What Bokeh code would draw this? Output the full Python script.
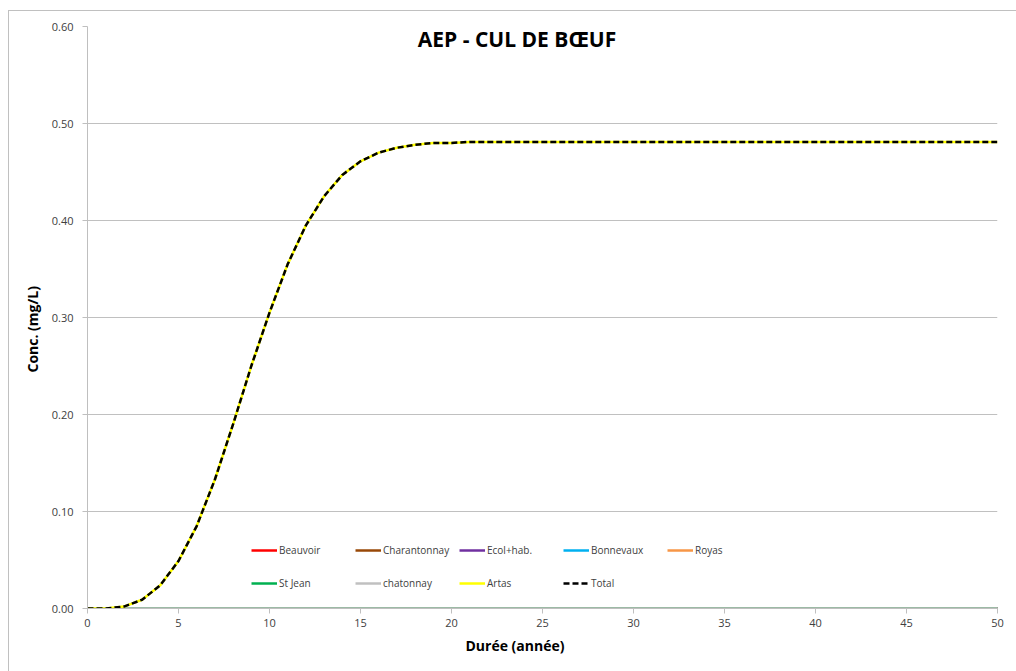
from bokeh.plotting import figure
from bokeh.models import Range1d, Label, Legend, LegendItem, NumeralTickFormatter, FixedTicker, Title
from bokeh.embed import file_html
from bokeh.resources import INLINE

# ---- data ----
years = list(range(0, 51))
artas = [0.000, 0.000, 0.002, 0.009, 0.024, 0.049, 0.085, 0.133, 0.190, 0.250,
         0.305, 0.355, 0.395, 0.425, 0.447, 0.461, 0.470, 0.475, 0.478, 0.480,
         0.480] + [0.481] * 30
zero = [0.0] * 51
beauvoir = zero
charantonnay = zero
ecol_hab = zero
bonnevaux = zero
royas = zero
st_jean = zero
chatonnay = zero
total = artas
series_names = ["Beauvoir", "Charantonnay", "Ecol+hab.", "Bonnevaux", "Royas",
                "St Jean", "chatonnay", "Artas", "Total"]
x_ticks = [0, 5, 10, 15, 20, 25, 30, 35, 40, 45, 50]
y_ticks = [0.0, 0.1, 0.2, 0.3, 0.4, 0.5, 0.6]
title_text = "AEP - CUL DE BŒUF"
x_title = "Durée (année)"
y_title = "Conc. (mg/L)"

FONT = "Open Sans"
p = figure(width=1008, height=661, output_backend="svg", toolbar_location=None,
           x_range=Range1d(0, 50), y_range=Range1d(0, 0.6),
           min_border_left=78, min_border_top=15, min_border_right=20, min_border_bottom=64)
p.styles = {"margin-left": "8px", "margin-top": "10px",
            "border-left": "1px solid #c0c0c0", "border-top": "1px solid #c0c0c0"}
p.outline_line_color = None
p.xgrid.grid_line_color = None
p.ygrid.grid_line_color = "#c0c0c0"
p.ygrid.grid_line_width = 1

for ax in (p.xaxis[0], p.yaxis[0]):
    ax.axis_line_color = "#bfbfbf"
    ax.major_tick_line_color = "#bfbfbf"
    ax.major_tick_out = 5
    ax.major_tick_in = 0
    ax.minor_tick_line_color = None
    ax.major_label_text_font = FONT
    ax.major_label_text_font_size = "11px"
    ax.major_label_text_color = "#404040"

p.xaxis.ticker = FixedTicker(ticks=x_ticks)
p.yaxis.ticker = FixedTicker(ticks=y_ticks)
p.yaxis.formatter = NumeralTickFormatter(format="0.00")
p.yaxis.major_label_standoff = 9

colors = ["#ff0000", "#984807", "#7030a0", "#00b0f0", "#f79646",
          "#00b050", "#c0c0c0", "#ffff00", "#000000"]
data = [beauvoir, charantonnay, ecol_hab, bonnevaux, royas, st_jean, chatonnay, artas, total]
renderers = []
for name, col, vals in zip(series_names, colors, data):
    if name == "Total":
        r = p.line(years, vals, line_color=col, line_width=2.5, line_dash="6 3")
    else:
        r = p.line(years, vals, line_color=col, line_width=2.5)
    renderers.append(r)

def make_legend(items, y):
    lg = Legend(items=[LegendItem(label=n, renderers=[r]) for n, r in items],
                orientation="horizontal", location=(164, y),
                border_line_alpha=0, background_fill_alpha=0,
                padding=0, margin=0, spacing=0,
                glyph_width=26, glyph_height=20, label_width=76, label_height=20,
                label_standoff=2,
                label_text_font=FONT, label_text_font_size="10px",
                label_text_color="#404040")
    return lg

pairs = list(zip(series_names, renderers))
p.add_layout(make_legend(pairs[:5], 48))
p.add_layout(make_legend(pairs[5:], 15))

p.add_layout(Label(x=23.6, y=0.587, text=title_text, text_align="center",
                   text_baseline="middle", text_font=FONT, text_font_style="bold",
                   text_font_size="21px", text_color="#000000"))
p.add_layout(Title(text=x_title, align="left", offset=378, standoff=9,
                   text_font=FONT, text_font_style="bold", text_font_size="14px",
                   text_color="#000000"), "below")
p.add_layout(Title(text=y_title, align="left", offset=236, standoff=13,
                   text_font=FONT, text_font_style="bold", text_font_size="14px",
                   text_color="#000000"), "left")

open("out.html", "w").write(file_html(p, INLINE))
